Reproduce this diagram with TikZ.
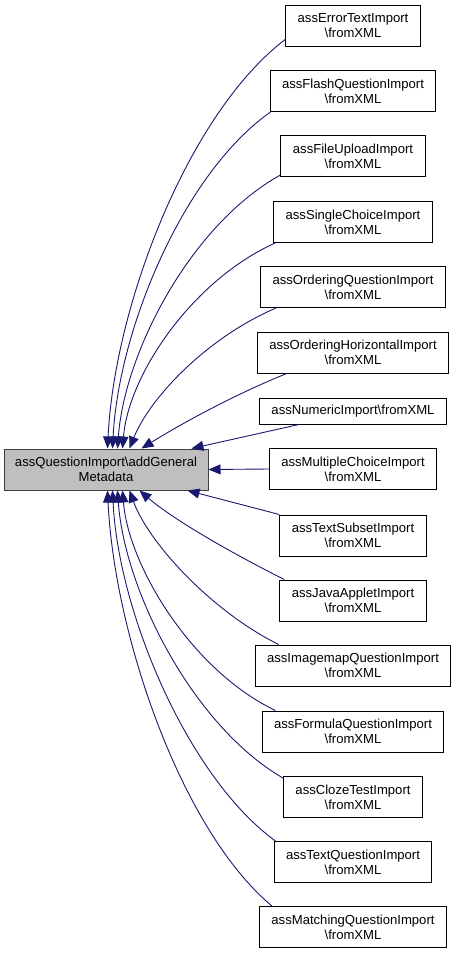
\documentclass[tikz,border=0pt]{standalone}
\usepackage{fontspec}
\setmainfont{Liberation Sans}
\usetikzlibrary{arrows.meta}
\definecolor{edgeblue}{HTML}{191970}
\definecolor{maingray}{HTML}{BFBFBF}
\newcommand{\fromxml}{\textbackslash fromXML}

\begin{document}
\begin{tikzpicture}[x=1pt,y=-1pt,
        box/.style={draw=black,line width=1pt,fill=white,align=center,inner xsep=12pt,inner ysep=0pt,
            minimum height=41pt,font=\fontsize{13.1}{15}\selectfont},
        onebox/.style={box,minimum height=26pt},
        edge/.style={draw=edgeblue,line width=0.9pt,-{Triangle[length=12pt,width=10pt]}}]
                \useasboundingbox (0,0) rectangle (455,953);

                \node[box,fill=maingray,draw=black!75,minimum width=204pt,inner xsep=0pt] (main) at (106,469.5) {assQuestionImport\textbackslash addGeneral\\Metadata};

                \node[box] (errortext) at (353,25.5) {assErrorTextImport\\\fromxml};
                \node[box] (flash) at (353,91) {assFlashQuestionImport\\\fromxml};
                \node[box] (fileupload) at (353,156) {assFileUploadImport\\\fromxml};
                \node[box] (singlechoice) at (353,222) {assSingleChoiceImport\\\fromxml};
                \node[box] (ordering) at (353,287) {assOrderingQuestionImport\\\fromxml};
                \node[box] (orderinghoriz) at (353,352.5) {assOrderingHorizontalImport\\\fromxml};
                \node[onebox] (numeric) at (353,411) {assNumericImport\fromxml};
                \node[box] (multiplechoice) at (353,469) {assMultipleChoiceImport\\\fromxml};
                \node[box] (textsubset) at (353,535.5) {assTextSubsetImport\\\fromxml};
                \node[box] (javaapplet) at (353,600.5) {assJavaAppletImport\\\fromxml};
                \node[box] (imagemap) at (353,665.5) {assImagemapQuestionImport\\\fromxml};
                \node[box] (formula) at (353,731.5) {assFormulaQuestionImport\\\fromxml};
                \node[box] (cloze) at (353,797) {assClozeTestImport\\\fromxml};
                \node[box] (textquestion) at (353,862) {assTextQuestionImport\\\fromxml};
                \node[box] (matching) at (353,927) {assMatchingQuestionImport\\\fromxml};

                \draw[edge] ([yshift=7pt]errortext.south west) .. controls +(-97,74) and +(7,-143) .. ([xshift=104pt]main.north west);
                \draw[edge] ([xshift=1pt]flash.south west) .. controls +(-87,61) and +(6,-119) .. ([xshift=109pt]main.north west);
                \draw[edge] ([yshift=2pt]fileupload.south west) .. controls +(-90,50) and +(7,-96) .. ([xshift=114pt]main.north west);
                \draw[edge] ([xshift=2pt]singlechoice.south west) .. controls +(-84,38) and +(6,-73) .. ([xshift=119pt]main.north west);
                \draw[edge] ([xshift=16pt]ordering.south west) .. controls +(-70,30) and +(20,-50) .. ([xshift=126pt]main.north west);
                \draw[edge] ([xshift=30pt]orderinghoriz.south west) .. controls +(-50,20) and +(40,-25) .. ([xshift=138pt]main.north west);
                \draw[edge] ([xshift=40pt]numeric.south west) -- ([xshift=188pt]main.north west);
                \draw[edge] (multiplechoice.west) -- (main.east);
                \draw[edge] (textsubset.north west) -- ([xshift=184pt]main.south west);
                \draw[edge] ([xshift=5pt]javaapplet.north west) .. controls +(-50,-25) and +(35,30) .. ([xshift=136pt]main.south west);
                \draw[edge] ([xshift=24pt]imagemap.north west) .. controls +(-70,-35) and +(18,50) .. ([xshift=126pt]main.south west);
                \draw[edge] ([xshift=14pt]formula.north west) .. controls +(-84,-40) and +(6,75) .. ([xshift=119pt]main.south west);
                \draw[edge] ([yshift=-2pt]cloze.north west) .. controls +(-90,-52) and +(7,100) .. ([xshift=114pt]main.south west);
                \draw[edge] ([xshift=2pt]textquestion.north west) .. controls +(-87,-63) and +(6,123) .. ([xshift=109pt]main.south west);
                \draw[edge] ([xshift=13pt]matching.north west) .. controls +(-90,-75) and +(7,146) .. ([xshift=104pt]main.south west);
            \end{tikzpicture}
\end{document}
